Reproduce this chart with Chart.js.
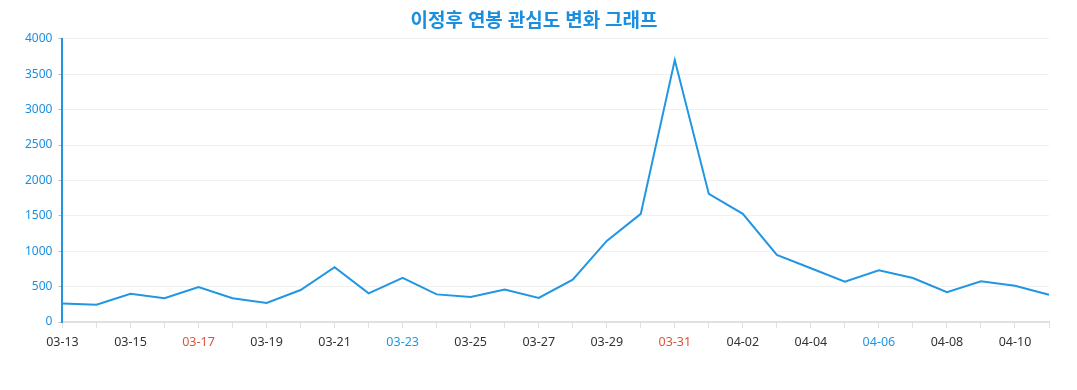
<!DOCTYPE html>
<html>
<head>
<meta charset="utf-8">
<script src="https://cdn.jsdelivr.net/npm/chart.js@4/dist/chart.umd.min.js"></script>
<style>
  html, body { margin: 0; padding: 0; background: #fff; }
  #wrap { width: 1077px; height: 390px; }
</style>
</head>
<body>
<div id="wrap"><canvas id="chart"></canvas></div>
<script>
  // data
  var dates = ['03-13', '03-14', '03-15', '03-16', '03-17', '03-18', '03-19', '03-20', '03-21', '03-22',
               '03-23', '03-24', '03-25', '03-26', '03-27', '03-28', '03-29', '03-30', '03-31', '04-01',
               '04-02', '04-03', '04-04', '04-05', '04-06', '04-07', '04-08', '04-09', '04-10', '04-11'];
  var interest = [262, 245, 400, 335, 495, 335, 268, 452, 773, 405,
                  622, 390, 353, 457, 339, 598, 1145, 1527, 3700, 1809,
                  1527, 947, 759, 570, 731, 622, 420, 576, 513, 386];
  var sundays = ['03-17', '03-24', '03-31', '04-07'];
  var saturdays = ['03-16', '03-23', '03-30', '04-06'];

  var blue = '#2196e3';
  var fontFamily = '"Noto Sans", "Noto Sans CJK KR", sans-serif';

  function labelColor(ctx) {
    var d = dates[ctx.index];
    if (sundays.indexOf(d) >= 0) return '#e0533a';
    if (saturdays.indexOf(d) >= 0) return '#2196e3';
    return '#333';
  }

  new Chart(document.getElementById('chart'), {
    type: 'line',
    data: {
      labels: dates,
      datasets: [{
        label: '관심도',
        data: interest,
        borderColor: blue,
        borderWidth: 2,
        pointRadius: 0,
        tension: 0,
        fill: false
      }]
    },
    options: {
      responsive: true,
      maintainAspectRatio: false,
      animation: false,
      layout: { padding: { left: 19, right: 28, top: 10, bottom: 33 } },
      plugins: {
        legend: { display: false },
        tooltip: { enabled: false },
        title: {
          display: true,
          text: '이정후 연봉 관심도 변화 그래프',
          color: '#1a8fe0',
          font: { family: fontFamily, size: 19, weight: 'bold' },
          padding: { top: 0, bottom: 6 }
        }
      },
      scales: {
        x: {
          offset: false,
          border: { color: '#e0e0e0', width: 2 },
          grid: { display: true, drawOnChartArea: false, drawTicks: true, tickLength: 6, color: '#e0e0e0' },
          ticks: {
            autoSkip: false,
            maxRotation: 0,
            padding: 7,
            color: labelColor,
            font: { family: fontFamily, size: 12.5 },
            callback: function(v, i) { return i % 2 === 0 ? dates[i] : ''; }
          }
        },
        y: {
          min: 0,
          max: 4000,
          border: { color: blue, width: 2 },
          grid: { color: '#f0f0f0', tickLength: 4, tickColor: '#bbb' },
          ticks: {
            stepSize: 500,
            padding: 6,
            color: '#1a8fe0',
            font: { family: fontFamily, size: 12 },
            callback: function(v) { return String(v); }
          }
        }
      }
    }
  });
</script>
</body>
</html>
